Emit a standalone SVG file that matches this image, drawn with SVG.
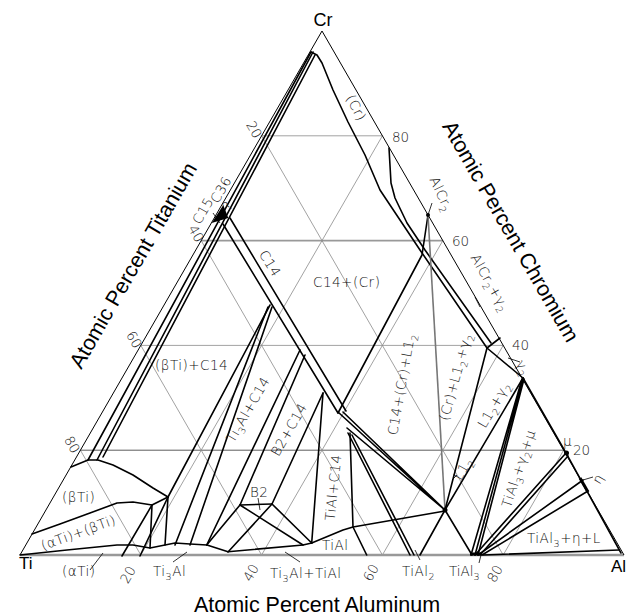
<svg xmlns="http://www.w3.org/2000/svg" width="629" height="616" viewBox="0 0 629 616">
<style>
.g{stroke:#8a8a8a;stroke-width:0.8;fill:none}
.e{stroke:#000;stroke-width:1;fill:none}
.p{stroke:#000;stroke-width:1.6;fill:none;stroke-linejoin:round;stroke-linecap:round}
.th{stroke:#000;stroke-width:3;fill:none}
.ld{stroke:#000;stroke-width:0.8;fill:none}
.t{font-family:"DejaVu Sans","Liberation Sans",sans-serif;font-weight:200;font-size:13.5px;letter-spacing:0.5px;fill:#111}
.n{font-family:"DejaVu Sans","Liberation Sans",sans-serif;font-weight:200;font-size:13.5px;fill:#222}
.ti{font-family:"Liberation Sans",Arial,sans-serif;font-size:21.5px;fill:#000}
.v{font-family:"Liberation Sans",Arial,sans-serif;font-size:17px;fill:#000}
.s{font-size:9.5px}
</style>
<rect width="629" height="616" fill="#fff"/>
<g id="grid">
<line class="g" x1="80.4" y1="450.2" x2="563.6" y2="450.2" style="stroke:#333"/>
<line class="g" x1="140.8" y1="345.4" x2="503.2" y2="345.4"/>
<line class="g" x1="201.2" y1="240.6" x2="442.8" y2="240.6" style="stroke-width:1.8;stroke:#999"/>
<line class="g" x1="261.6" y1="135.8" x2="382.4" y2="135.8"/>
<line class="g" x1="140.8" y1="555" x2="382.4" y2="135.8"/>
<line class="g" x1="261.6" y1="555" x2="442.8" y2="240.6"/>
<line class="g" x1="382.4" y1="555" x2="503.2" y2="345.4"/>
<line class="g" x1="503.2" y1="555" x2="563.6" y2="450.2"/>
<line class="g" x1="140.8" y1="555" x2="80.4" y2="450.2"/>
<line class="g" x1="261.6" y1="555" x2="140.8" y2="345.4"/>
<line class="g" x1="382.4" y1="555" x2="201.2" y2="240.6"/>
<line class="g" x1="503.2" y1="555" x2="261.6" y2="135.8"/>
</g>
<g id="frame">
<line x1="20" y1="555" x2="624" y2="555" style="stroke:#999;stroke-width:2.5"/>
<line class="e" x1="20" y1="555" x2="322" y2="31"/>
<line class="e" x1="322" y1="31" x2="624" y2="555"/>
</g>
<g id="connectors">
<path class="p" d="M311,52 L88,460"/>
<path class="p" d="M313,52 L97,460"/>
<path class="p" d="M315,55 L103,457"/>
<path class="p" d="M223,224 L338,413"/>
<path class="p" d="M230,218 L346,411"/>
<path class="p" d="M311,52 L317,55 L322,63 L333,90 L348,122 L365,155 L380,190 L420,250 L487,348"/>
<path class="p" d="M389,148 L391,183 L395,198 L407,223 L425,250 L491,343"/>
<path class="p" d="M487,348 L500,338"/>
<path class="p" d="M428,215 L422,255 L338,413"/>
<path d="M428,215 L445,510" style="stroke:#777;stroke-width:1.6;fill:none"/>
<path class="p" d="M487,348 L523,378"/>
<path class="p" d="M487,348 L445,510"/>
<path class="p" d="M523,378 L445,510"/>
<path class="p" d="M522,379 L471,555 M523,378 L475,555 M524,379 L478,555"/>
<path class="p" d="M523,378 L566,453"/>
<path class="p" d="M566,453 L475,555 M568,456 L480,555"/>
<path class="p" d="M583,480 L478,555 M588,491 L482,555"/>
<path class="p" d="M483,555 L619,550"/>
<path class="p" d="M566,453 L621,553"/>
<path class="th" d="M580,478 L588,492"/>
<path class="th" d="M470,554 L482,554"/>
<circle cx="566.5" cy="453" r="2.5"/>
<circle cx="445" cy="510" r="2.5"/>
<circle cx="428" cy="215" r="2"/>
<path class="p" d="M445,510 L472,555"/>
<path class="p" d="M445,510 L420,555"/>
<path class="p" d="M338,412 L445,510 M343,412 L445,510 M347,428 L445,510"/>
<path class="p" d="M348,433 L410,555 M352,435 L414,555"/>
<path class="p" d="M350,433 L353,527 L366.7,555"/>
<path class="p" d="M311.7,543 L343,530 L353,527 L445,511"/>
<path class="p" d="M323,393 L311.7,543"/>
<path class="p" d="M240,505 L272,504"/>
<path class="p" d="M240,505 L206.7,545"/>
<path class="p" d="M240,505 L303,545"/>
<path class="p" d="M272,504 L311.7,543"/>
<path class="p" d="M272,504 L228,552"/>
<path class="p" d="M272,504 L323,393"/>
<path class="p" d="M240,505 L305,355"/>
<path class="p" d="M206.7,545 L300,350"/>
<path class="p" d="M168,497 L270,305"/>
<path class="p" d="M175,545 L268,307"/>
<path class="p" d="M190,545 L272,307"/>
<path class="p" d="M71,467 L88,460 L98,460 L113,465 L133,475 L153,488 L168,497"/>
<path class="p" d="M32,534 L60,524 L90,513 L117,503 L133,502 L152,505 L168,497"/>
<path class="p" d="M20,555 L67,550 L117,545 L133,545 L150,548 L165,545 L175,543 L190,544 L207,545 L228,551.7 L303,545 L311.7,543"/>
<path class="p" d="M152,505 L150,548"/>
<path class="p" d="M168,497 L165,545"/>
<path class="p" d="M122,556 L152,505"/>
<path class="p" d="M140,556 L168,497"/>
<polygon points="211.7,223 223.3,205 228.3,218" fill="#000"/>
<path class="ld" d="M90,570 L103,553 M173,562 L187,552 M285,552 L300,562 M415,550 L420,560 M479,563 L481,555 M258,498 L260,510 M452,480 L457,475 M583,480 L593,477 M428,215 L432,203 M475,297 L480,307 M508,358 L520,362 M213,213 L220,223"/>
</g>
<g id="labels">
<text class="v" x="323" y="26" text-anchor="middle" style="font-size:18px">Cr</text>
<text class="v" x="19" y="569">Ti</text>
<text class="v" x="611" y="572">Al</text>
<text class="ti" x="317" y="612" text-anchor="middle">Atomic Percent Aluminum</text>
<text class="ti" text-anchor="middle" transform="translate(139.5,269) rotate(-60)">Atomic Percent Titanium</text>
<text class="ti" text-anchor="middle" transform="translate(504.5,235) rotate(60)">Atomic Percent Chromium</text>
<text class="n" text-anchor="middle" transform="translate(250,132) rotate(60)">20</text>
<text class="n" text-anchor="middle" transform="translate(192,236) rotate(60)">40</text>
<text class="n" text-anchor="middle" transform="translate(130,342) rotate(60)">60</text>
<text class="n" text-anchor="middle" transform="translate(68,447) rotate(60)">80</text>
<text class="n" x="392" y="142">80</text>
<text class="n" x="452" y="246">60</text>
<text class="n" x="512" y="350">40</text>
<text class="n" x="573" y="455">20</text>
<text class="n" text-anchor="middle" transform="translate(132,577) rotate(-60)">20</text>
<text class="n" text-anchor="middle" transform="translate(255,575) rotate(-60)">40</text>
<text class="n" text-anchor="middle" transform="translate(375,575) rotate(-60)">60</text>
<text class="n" text-anchor="middle" transform="translate(499,576) rotate(-60)">80</text>
<text class="t" text-anchor="middle" transform="translate(352,110) rotate(62)">(Cr)</text>
<text class="t" x="313" y="287">C14+(Cr)</text>
<text class="t" text-anchor="middle" transform="translate(266,266) rotate(58)">C14</text>
<text class="t" x="155" y="370">(βTi)+C14</text>
<text class="t" text-anchor="middle" transform="translate(252,412) rotate(-60)">Ti<tspan class="s" dy="4">3</tspan><tspan dy="-4">Al+C14</tspan></text>
<text class="t" text-anchor="middle" transform="translate(293,432) rotate(-60)">B2+C14</text>
<text class="t" x="250" y="497">B2</text>
<text class="t" text-anchor="middle" transform="translate(338,488) rotate(-84)">TiAl+C14</text>
<text class="t" x="322" y="550">TiAl</text>
<text class="t" x="270" y="578">Ti<tspan class="s" dy="4">3</tspan><tspan dy="-4">Al+TiAl</tspan></text>
<text class="t" x="402" y="576">TiAl<tspan class="s" dy="4">2</tspan></text>
<text class="t" x="449" y="576" style="letter-spacing:0">TiAl<tspan class="s" dy="4">3</tspan></text>
<text class="t" x="62" y="576">(αTi)</text>
<text class="t" x="153" y="576">Ti<tspan class="s" dy="4">3</tspan><tspan dy="-4">Al</tspan></text>
<text class="t" x="62" y="502">(βTi)</text>
<text class="t" text-anchor="middle" transform="translate(80,537) rotate(-20)">(αTi)+(βTi)</text>
<text class="t" text-anchor="middle" transform="translate(406,385) rotate(-80)">C14+(Cr)+L1<tspan class="s" dy="4">2</tspan></text>
<text class="t" text-anchor="middle" transform="translate(460,378) rotate(-75)">(Cr)+L1<tspan class="s" dy="4">2</tspan><tspan dy="-4">+γ</tspan><tspan class="s" dy="4">2</tspan></text>
<text class="t" text-anchor="middle" transform="translate(498,407) rotate(-60)">L1<tspan class="s" dy="4">2</tspan><tspan dy="-4">+γ</tspan><tspan class="s" dy="4">2</tspan></text>
<text class="t" text-anchor="middle" transform="translate(467,471) rotate(-60)">L1<tspan class="s" dy="4">2</tspan></text>
<text class="t" text-anchor="middle" transform="translate(523,470) rotate(-72)">TiAl<tspan class="s" dy="4">3</tspan><tspan dy="-4">+γ</tspan><tspan class="s" dy="4">2</tspan><tspan dy="-4">+μ</tspan></text>
<text class="t" x="527" y="543">TiAl<tspan class="s" dy="4">3</tspan><tspan dy="-4">+η+L</tspan></text>
<text class="t" text-anchor="middle" transform="translate(437,196) rotate(65)">AlCr<tspan class="s" dy="4">2</tspan></text>
<text class="t" text-anchor="middle" transform="translate(486,285) rotate(60)">AlCr<tspan class="s" dy="4">2</tspan><tspan dy="-4">+γ</tspan><tspan class="s" dy="4">2</tspan></text>
<text class="t" text-anchor="middle" transform="translate(519,370) rotate(60)">γ<tspan class="s" dy="4">2</tspan></text>
<text class="t" x="563" y="446">μ</text>
<text class="t" text-anchor="middle" transform="translate(602,481) rotate(-60)">η</text>
<text class="t" text-anchor="middle" transform="translate(207,213) rotate(-60)">C15</text>
<text class="t" text-anchor="middle" transform="translate(225,192) rotate(-60)">C36</text>
<text class="t" text-anchor="middle" transform="translate(232,208) rotate(-60)">?</text>
</g>
</svg>
